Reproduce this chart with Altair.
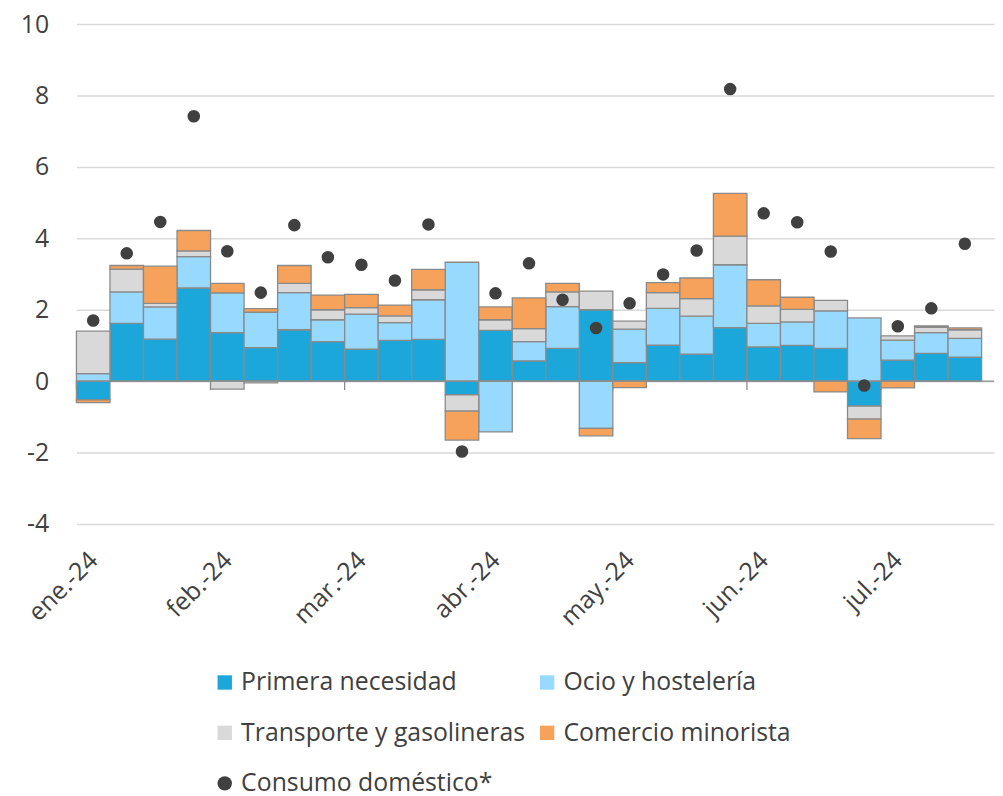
import json
import altair as alt
import pandas as pd

# ---------------- data ----------------
semanas = list(range(27))
primera = [-0.52, 1.62, 1.18, 2.61, 1.36, 0.94, 1.44, 1.11, 0.90, 1.14, 1.17, -0.38, 1.42, 0.57,
           0.92, 2.00, 0.52, 1.01, 0.76, 1.50, 0.96, 1.00, 0.92, -0.70, 0.59, 0.78, 0.67]
ocio = [0.21, 0.88, 0.90, 0.88, 1.11, 0.99, 1.04, 0.61, 0.98, 0.50, 1.11, 3.33, -1.42, 0.54,
        1.17, -1.32, 0.94, 1.03, 1.06, 1.76, 0.66, 0.66, 1.05, 1.77, 0.56, 0.58, 0.53]
transporte = [1.19, 0.64, 0.10, 0.16, -0.22, -0.05, 0.26, 0.28, 0.18, 0.19, 0.28, -0.46, 0.30, 0.36,
              0.41, 0.52, 0.22, 0.44, 0.49, 0.80, 0.49, 0.35, 0.29, -0.36, 0.12, 0.15, 0.24]
comercio = [-0.08, 0.10, 1.04, 0.57, 0.27, 0.10, 0.50, 0.41, 0.37, 0.30, 0.57, -0.81, 0.36, 0.86,
            0.24, -0.21, -0.18, 0.28, 0.58, 1.20, 0.73, 0.34, -0.30, -0.55, -0.19, 0.04, 0.05]
consumo = [1.70, 3.58, 4.46, 7.42, 3.64, 2.48, 4.37, 3.47, 3.26, 2.82, 4.39, -1.97, 2.46, 3.30,
           2.28, 1.49, 2.18, 2.99, 3.66, 8.18, 4.70, 4.45, 3.63, -0.12, 1.54, 2.04, 3.85]

meses = ["ene.-24", "feb.-24", "mar.-24", "abr.-24", "may.-24", "jun.-24", "jul.-24"]
semana_mes = [0, 4, 8, 12, 16, 20, 24]

series = ["Primera necesidad", "Ocio y hostelería", "Transporte y gasolineras", "Comercio minorista"]
punto_nombre = "Consumo doméstico*"
colores = ["#1CA7DB", "#97D9FF", "#D9D9D9", "#F6A25A"]
punto_color = "#404040"

y_ticks = [-4, -2, 0, 2, 4, 6, 8, 10]

# ---------------- tables ----------------
rows = []
for k, (nombre, vals) in enumerate(zip(series, [primera, ocio, transporte, comercio])):
    for i, v in zip(semanas, vals):
        rows.append({"semana": i, "semana_fin": i + 1, "serie": nombre, "orden": k, "valor": v})
barras_df = pd.DataFrame(rows)

puntos_df = pd.DataFrame({
    "centro": [i + 0.5 for i in semanas],
    "valor": consumo,
    "serie": [punto_nombre] * len(semanas),
})
marcas_df = pd.DataFrame({"semana": semana_mes, "base": [0] * len(semana_mes),
                          "fin": [-0.25] * len(semana_mes)})
cero_df = pd.DataFrame({"base": [0]})

todas = series + [punto_nombre]
FONT = "Open Sans"
TXT = "#404040"

x_scale = alt.Scale(domain=[0, 27.37], nice=False, zero=False)
y_scale = alt.Scale(domain=[-4, 10], nice=False, zero=False)

label_expr = json.dumps(meses) + "[floor(datum.value / 4)]"

x_axis = alt.Axis(
    values=[m + 0.5 for m in semana_mes], labelExpr=label_expr, title=None,
    grid=False, domain=False, ticks=False, labelAngle=-45, labelAlign="right",
    labelBaseline="middle", labelPadding=32, labelFontSize=25, labelFont=FONT,
    labelColor=TXT, labelOverlap=False,
)
y_axis = alt.Axis(
    values=y_ticks, title=None, grid=True, gridColor="#D9D9D9", gridWidth=1.5,
    domain=False, ticks=False, labelFontSize=25, labelFont=FONT, labelColor=TXT,
    labelPadding=28, labelExpr="toString(datum.value)",
)

legend = alt.Legend(
    title=None, orient="none", legendX=137, legendY=651, columns=2, direction="horizontal",
    labelFontSize=25, labelFont=FONT, labelColor=TXT, labelLimit=500,
    symbolSize=210, symbolStrokeColor="#8C8C8C", symbolStrokeWidth=1,
    labelOffset=4, columnPadding=9, rowPadding=25, symbolOpacity=1,
)

color_enc = alt.Color("serie:N", scale=alt.Scale(domain=todas, range=colores + [punto_color]),
                      legend=legend)

ticks = alt.Chart(marcas_df).mark_rule(color="#8C8C8C", strokeWidth=1.3).encode(
    x=alt.X("semana:Q", scale=x_scale, axis=x_axis),
    y=alt.Y("base:Q", scale=y_scale, axis=y_axis),
    y2="fin:Q",
)

barras = alt.Chart(barras_df).transform_stack(
    stack="valor", groupby=["semana"], as_=["y0", "y1"],
    sort=[alt.SortField("orden", order="ascending")], offset="zero",
).mark_rect(stroke="#8A8A8A", strokeWidth=1.3).encode(
    x=alt.X("semana:Q", scale=x_scale, axis=x_axis),
    x2="semana_fin:Q",
    y=alt.Y("y0:Q", scale=y_scale, axis=y_axis),
    y2="y1:Q",
    color=color_enc,
)

cero = alt.Chart(cero_df).mark_rule(color="#8C8C8C", strokeWidth=1.3).encode(
    y=alt.Y("base:Q", scale=y_scale, axis=y_axis),
)

puntos = alt.Chart(puntos_df).mark_point(filled=True, size=160, opacity=1).encode(
    x=alt.X("centro:Q", scale=x_scale, axis=x_axis),
    y=alt.Y("valor:Q", scale=y_scale, axis=y_axis),
    color=color_enc,
    shape=alt.Shape("serie:N", scale=alt.Scale(domain=todas, range=["square"] * 4 + ["circle"]),
                    legend=legend),
)

chart = alt.layer(ticks, barras, cero, puntos).properties(
    width=925, height=504,
    padding={"left": 12, "top": 1, "right": 0, "bottom": 0},
).configure(font=FONT).configure_view(stroke=None)

chart.save("out.html", embed_options={"renderer": "svg", "actions": False})
